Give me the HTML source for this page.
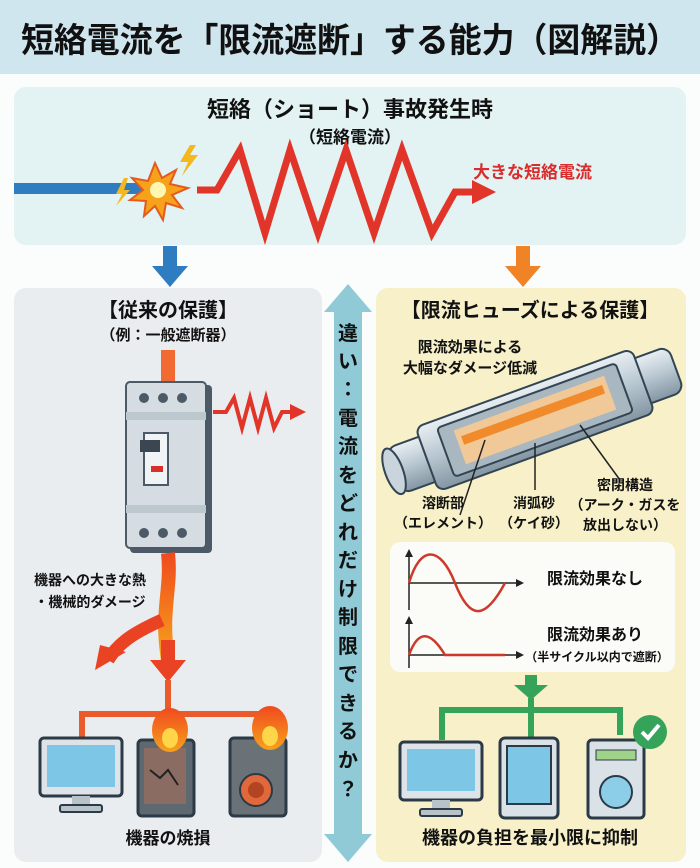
<!DOCTYPE html>
<html><head><meta charset="utf-8"><style>
html,body{margin:0;padding:0;background:#fff}
svg{display:block}
text{font-family:"Liberation Sans","Noto Sans CJK JP",sans-serif;font-weight:bold}
</style></head><body>
<svg width="700" height="868" viewBox="0 0 700 868" xmlns="http://www.w3.org/2000/svg">
<defs>
<linearGradient id="fl" x1="0" y1="0" x2="0" y2="1"><stop offset="0" stop-color="#f04a1e"/><stop offset="1" stop-color="#f7a21b"/></linearGradient>
<linearGradient id="cyl" x1="0" y1="0" x2="0" y2="1"><stop offset="0" stop-color="#e9eff3"/><stop offset=".5" stop-color="#b7c6d0"/><stop offset="1" stop-color="#8396a3"/></linearGradient>
</defs>
<rect width="700" height="868" fill="#fbfcfc"/>
<rect x="0" y="0" width="700" height="74" fill="#cfe6ef"/>
<text x="350" y="52" font-size="34" text-anchor="middle" fill="#111" textLength="658" lengthAdjust="spacingAndGlyphs">短絡電流を「限流遮断」する能力（図解説）</text>

<!-- top panel -->
<rect x="14" y="87" width="672" height="158" rx="12" fill="#e3f2f3"/>
<text x="350" y="117" font-size="22" text-anchor="middle" fill="#111">短絡（ショート）事故発生時</text>
<text x="350" y="143" font-size="17" text-anchor="middle" fill="#111">（短絡電流）</text>
<rect x="14" y="183" width="128" height="11" fill="#2f7dc1"/>
<polygon points="155,163 162,178 176,170 170,184 188,188 172,195 182,208 166,203 163,220 155,206 144,216 146,201 130,200 143,190 132,178 148,181" fill="#f7a21b" stroke="#e55a1c" stroke-width="2"/>
<circle cx="158" cy="190" r="8" fill="#fff6b0"/>
<polygon points="190,145 180,162 188,162 182,176 198,155 190,155 196,145" fill="#f5b81c"/>
<polygon points="124,178 116,194 122,194 116,206 130,190 124,190 128,178" fill="#f5b81c"/>
<polyline points="197,190 217,190 240,150 265,233 290,150 318,233 346,150 374,233 402,150 432,233 455,192 475,192" fill="none" stroke="#e2352a" stroke-width="7" stroke-linejoin="miter"/>
<polygon points="472,180 496,192 472,204" fill="#e2352a"/>
<text x="473" y="178" font-size="17" fill="#d92c2c">大きな短絡電流</text>

<!-- down arrows -->
<rect x="163" y="246" width="14" height="22" fill="#2f7dc1"/><polygon points="152,266 188,266 170,287" fill="#2f7dc1"/>
<rect x="516" y="246" width="14" height="22" fill="#f08326"/><polygon points="505,266 541,266 523,287" fill="#f08326"/>

<!-- left panel -->
<rect x="14" y="288" width="308" height="574" rx="12" fill="#eaedf0"/>
<text x="168" y="317" font-size="20" text-anchor="middle" fill="#111">【従来の保護】</text>
<text x="168" y="340" font-size="15" text-anchor="middle" fill="#111">（例：一般遮断器）</text>
<rect x="161" y="350" width="14" height="50" fill="#f06a32"/>
<!-- breaker -->
<rect x="130" y="385" width="82" height="168" rx="4" fill="#4b5a66"/>
<rect x="126" y="382" width="80" height="166" rx="4" fill="#d6dde2" stroke="#4b5a66" stroke-width="2"/>
<rect x="126" y="412" width="80" height="8" fill="#bcc7ce"/>
<rect x="126" y="505" width="80" height="8" fill="#bcc7ce"/>
<circle cx="144" cy="398" r="5" fill="#4b5a66"/><circle cx="163" cy="398" r="5" fill="#4b5a66"/><circle cx="182" cy="398" r="5" fill="#4b5a66"/>
<circle cx="144" cy="533" r="5" fill="#4b5a66"/><circle cx="163" cy="533" r="5" fill="#4b5a66"/><circle cx="182" cy="533" r="5" fill="#4b5a66"/>
<rect x="144" y="433" width="24" height="52" fill="#f1f4f6" stroke="#4b5a66" stroke-width="2"/>
<rect x="140" y="440" width="20" height="12" fill="#3a4650"/>
<rect x="151" y="466" width="12" height="6" fill="#d9302a"/>
<polyline points="213,412 226,412 234,398 242,428 250,398 258,428 266,398 274,428 282,412 292,412" fill="none" stroke="#e2352a" stroke-width="4"/>
<polygon points="290,404 306,412 290,420" fill="#e2352a"/>
<!-- flow down -->
<path d="M168 553 C172 590,160 610,168 660" fill="none" stroke="url(#fl)" stroke-width="14"/>
<path d="M162 620 C140 630,120 640,108 660" fill="none" stroke="#ea4323" stroke-width="13"/>
<polygon points="95,670 126,652 100,645" fill="#ea4323"/>
<rect x="161" y="640" width="14" height="25" fill="#ea4323"/>
<polygon points="150,660 186,660 168,682" fill="#ea4323"/>
<text x="90" y="585" font-size="14" text-anchor="middle" fill="#111">機器への大きな熱</text>
<text x="90" y="607" font-size="14" text-anchor="middle" fill="#111">・機械的ダメージ</text>
<polyline points="82,737 82,714 262,714 262,740" fill="none" stroke="#ea5a2a" stroke-width="6"/>
<line x1="168" y1="680" x2="168" y2="714" stroke="#ea5a2a" stroke-width="6"/>
<!-- monitor -->
<rect x="40" y="738" width="82" height="58" rx="4" fill="#dde3e7" stroke="#2b3a46" stroke-width="3"/>
<rect x="47" y="745" width="68" height="42" fill="#7ec6e6"/>
<rect x="72" y="796" width="18" height="10" fill="#b7c2c9"/>
<rect x="60" y="805" width="42" height="7" rx="2" fill="#b7c2c9" stroke="#2b3a46" stroke-width="2"/>
<!-- burnt tablet -->
<rect x="138" y="740" width="56" height="76" rx="4" fill="#5e6870" stroke="#2b3a46" stroke-width="3"/>
<rect x="144" y="748" width="42" height="56" fill="#8a6c63"/>
<path d="M150 770 L160 778 L168 770 L178 785" stroke="#222" stroke-width="2" fill="none"/>
<ellipse cx="170" cy="730" rx="18" ry="22" fill="url(#fl)"/><ellipse cx="170" cy="738" rx="8" ry="10" fill="#ffd54a"/>
<!-- burnt speaker -->
<rect x="230" y="738" width="56" height="78" rx="4" fill="#6a7278" stroke="#2b3a46" stroke-width="3"/>
<circle cx="256" cy="790" r="16" fill="#e0683a" stroke="#2b3a46" stroke-width="2"/>
<circle cx="256" cy="790" r="8" fill="#b34422"/>
<ellipse cx="270" cy="728" rx="18" ry="22" fill="url(#fl)"/><ellipse cx="270" cy="736" rx="8" ry="10" fill="#ffd54a"/>
<text x="168" y="844" font-size="17" text-anchor="middle" fill="#111">機器の焼損</text>

<!-- middle double arrow -->
<polygon points="348,284 372,312 362,312 362,834 372,834 348,862 324,834 334,834 334,312 324,312" fill="#8fcad6"/>
<g font-size="20" fill="#111" text-anchor="middle">
<text x="348" y="340">違</text><text x="348" y="368">い</text><text x="348" y="396">：</text>
<text x="348" y="425">電</text><text x="348" y="453">流</text><text x="348" y="482">を</text>
<text x="348" y="510">ど</text><text x="348" y="539">れ</text><text x="348" y="567">だ</text>
<text x="348" y="596">け</text><text x="348" y="624">制</text><text x="348" y="653">限</text>
<text x="348" y="681">で</text><text x="348" y="710">き</text><text x="348" y="738">る</text>
<text x="348" y="767">か</text><text x="348" y="796">？</text>
</g>

<!-- right panel -->
<rect x="376" y="288" width="310" height="574" rx="12" fill="#f7f0c8"/>
<text x="530" y="317" font-size="20" text-anchor="middle" fill="#111">【限流ヒューズによる保護】</text>
<text x="470" y="352" font-size="15" text-anchor="middle" fill="#111">限流効果による</text>
<text x="470" y="373" font-size="15" text-anchor="middle" fill="#111">大幅なダメージ低減</text>
<!-- fuse -->
<g transform="translate(535,420) rotate(-20)">
<rect x="-150" y="-24" width="300" height="48" rx="10" fill="url(#cyl)" stroke="#334452" stroke-width="2"/>
<rect x="-115" y="-34" width="230" height="68" rx="8" fill="url(#cyl)" stroke="#334452" stroke-width="2"/>
<rect x="-95" y="-26" width="190" height="52" rx="4" fill="#a9b7c1" stroke="#334452" stroke-width="2"/>
<rect x="-80" y="-18" width="160" height="36" fill="#f1c898"/>
<rect x="-75" y="-10" width="150" height="9" fill="#f08a2a"/>
<ellipse cx="-150" cy="0" rx="9" ry="24" fill="#c9d4dc" stroke="#334452" stroke-width="2"/>
</g>
<line x1="485" y1="440" x2="460" y2="515" stroke="#222" stroke-width="1.5"/>
<line x1="535" y1="443" x2="535" y2="490" stroke="#222" stroke-width="1.5"/>
<line x1="580" y1="425" x2="620" y2="480" stroke="#222" stroke-width="1.5"/>
<text x="443" y="508" font-size="14" text-anchor="middle" fill="#111">溶断部</text>
<text x="443" y="528" font-size="14" text-anchor="middle" fill="#111">（エレメント）</text>
<text x="534" y="508" font-size="14" text-anchor="middle" fill="#111">消弧砂</text>
<text x="534" y="528" font-size="14" text-anchor="middle" fill="#111">（ケイ砂）</text>
<text x="625" y="490" font-size="14" text-anchor="middle" fill="#111">密閉構造</text>
<text x="625" y="510" font-size="14" text-anchor="middle" fill="#111">（アーク・ガスを</text>
<text x="625" y="530" font-size="14" text-anchor="middle" fill="#111">放出しない）</text>
<!-- graphs -->
<rect x="390" y="542" width="285" height="130" rx="10" fill="#fbfbf7"/>
<g stroke="#222" stroke-width="1.5" fill="none">
<line x1="409" y1="555" x2="409" y2="610"/><line x1="409" y1="583" x2="518" y2="583"/>
<line x1="409" y1="622" x2="409" y2="668"/><line x1="409" y1="655" x2="518" y2="655"/>
</g>
<polygon points="405,557 409,549 413,557" fill="#222"/><polygon points="516,579 524,583 516,587" fill="#222"/>
<polygon points="405,624 409,616 413,624" fill="#222"/><polygon points="516,651 524,655 516,659" fill="#222"/>
<path d="M409 583 C420 545,440 545,455 583 S485 620,505 583" fill="none" stroke="#cc3a2c" stroke-width="2.5"/>
<path d="M409 655 C418 630,430 630,445 655 L505 655" fill="none" stroke="#cc3a2c" stroke-width="2.5"/>
<text x="595" y="584" font-size="16" text-anchor="middle" fill="#111">限流効果なし</text>
<text x="595" y="640" font-size="16" text-anchor="middle" fill="#111">限流効果あり</text>
<text x="597" y="661" font-size="12" text-anchor="middle" fill="#111">（半サイクル以内で遮断）</text>
<!-- green tree -->
<rect x="525" y="675" width="12" height="12" fill="#35a35a"/><polygon points="514,685 548,685 531,700" fill="#35a35a"/>
<line x1="531" y1="698" x2="531" y2="740" stroke="#35a35a" stroke-width="6"/>
<polyline points="442,740 442,710 620,710 620,735" fill="none" stroke="#35a35a" stroke-width="6"/>
<!-- monitor -->
<rect x="400" y="742" width="82" height="58" rx="4" fill="#dde3e7" stroke="#2b3a46" stroke-width="3"/>
<rect x="407" y="749" width="68" height="42" fill="#7ec6e6"/>
<rect x="432" y="800" width="18" height="10" fill="#b7c2c9"/>
<rect x="420" y="809" width="42" height="7" rx="2" fill="#b7c2c9" stroke="#2b3a46" stroke-width="2"/>
<!-- tablet -->
<rect x="500" y="738" width="58" height="80" rx="5" fill="#dbe2e7" stroke="#2b3a46" stroke-width="3"/>
<rect x="507" y="746" width="44" height="58" fill="#7ec6e6" stroke="#2b3a46" stroke-width="2"/>
<!-- washer -->
<rect x="588" y="740" width="56" height="78" rx="4" fill="#dbe2e7" stroke="#2b3a46" stroke-width="3"/>
<rect x="596" y="750" width="40" height="10" fill="#9fd38a" stroke="#2b3a46" stroke-width="1"/>
<circle cx="616" cy="792" r="16" fill="#8ccde8" stroke="#2b3a46" stroke-width="2"/>
<circle cx="650" cy="732" r="17" fill="#35a35a"/>
<polyline points="642,732 648,738 659,725" fill="none" stroke="#fff" stroke-width="4"/>
<text x="530" y="844" font-size="18" text-anchor="middle" fill="#111">機器の負担を最小限に抑制</text>
</svg>
</body></html>
